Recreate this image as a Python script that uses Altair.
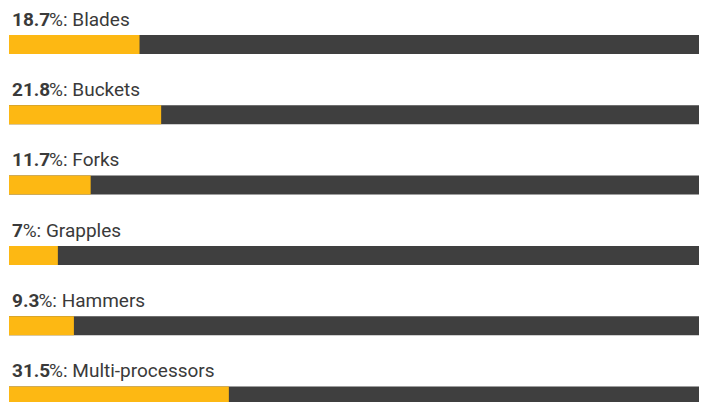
import altair as alt
import pandas as pd

categories = ["Blades", "Buckets", "Forks", "Grapples", "Hammers", "Multi-processors"]
values = [18.7, 21.8, 11.7, 7, 9.3, 31.5]
value_labels = ["18.7", "21.8", "11.7", "7", "9.3", "31.5"]

df = pd.DataFrame({"cat": categories, "val": values, "lab": value_labels, "full": [100] * len(values)})

YELLOW = "#FDB813"
DARK = "#3F3F3F"
TEXT = "#3A3A3A"
FONT = "Roboto"
FS = 19

y = alt.Y("cat:N", sort=categories, axis=None,
          scale=alt.Scale(paddingInner=0, paddingOuter=0, range=[0, 421.8]))
xs = alt.Scale(domain=[0, 100], nice=False, zero=True, range=[0, 698])

base = alt.Chart(df)

bg = base.mark_bar(color=DARK, size=19, yOffset=1.35).encode(
    x=alt.X("full:Q", scale=xs, axis=None), y=y)
fg = base.mark_bar(color=YELLOW, size=19, yOffset=1.35).encode(
    x=alt.X("val:Q", scale=xs, axis=None), y=y)

num = base.mark_text(align="left", baseline="alphabetic", dx=3, dy=-17.5,
                     font=FONT, fontSize=FS, fontWeight="bold", color=TEXT).encode(
    x=alt.value(0), y=y, text="lab:N")

rest = base.transform_calculate(
    rest="'%: ' + datum.cat",
    off="length(replace(datum.lab, '.', '')) * 10.7 + (indexof(datum.lab, '.') >= 0 ? 5.0 : 0) + 3"
).mark_text(align="left", baseline="alphabetic", dy=-17.5,
            font=FONT, fontSize=FS, fontWeight="normal", color=TEXT).encode(
    x=alt.value(0), xOffset=alt.XOffset("off:Q", scale=None), y=y, text="rest:N")

chart = alt.layer(bg, fg, num, rest).properties(
    width=690, height=394,
    padding={"left": 1, "top": 0, "right": 0, "bottom": 0},
    autosize=alt.AutoSizeParams(type="none"),
    background="white",
).configure_view(stroke=None)

chart.save("out.html", embed_options={"renderer": "svg", "actions": False})
